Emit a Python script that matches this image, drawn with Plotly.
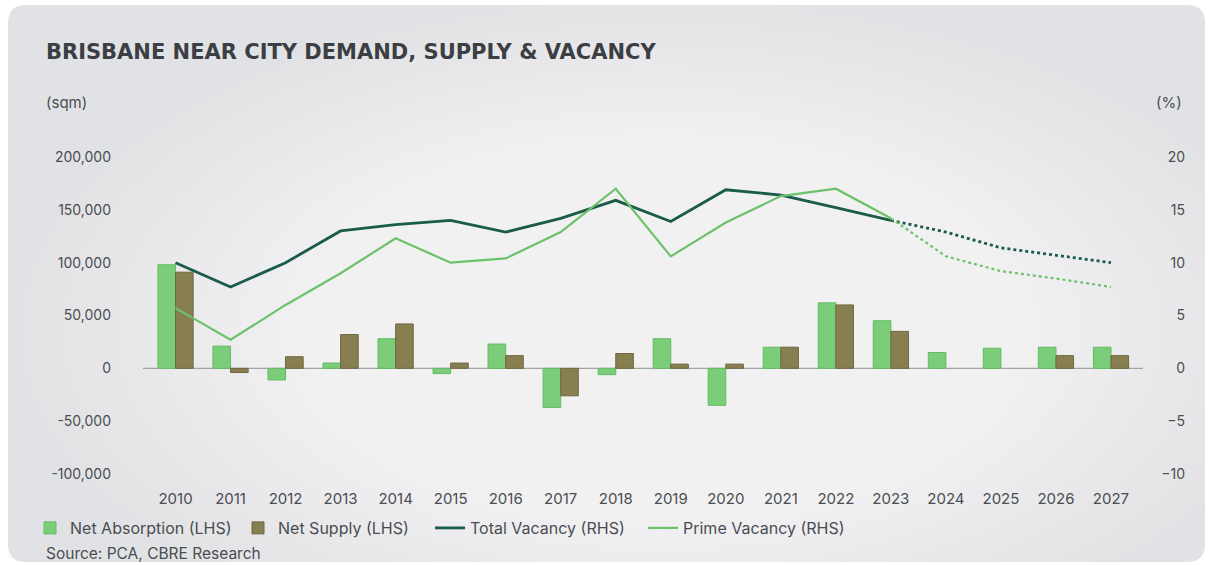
import plotly.graph_objects as go

# ---- data ----
years = [str(y) for y in range(2010, 2028)]
net_absorption = [98000, 21000, -11000, 5000, 28000, -5000, 23000, -37000, -6000,
                  28000, -35000, 20000, 62000, 45000, 15000, 19000, 20000, 20000]
net_supply = [91000, -4000, 11000, 32000, 42000, 5000, 12000, -26000, 14000,
              4000, 4000, 20000, 60000, 35000, 0, 0, 12000, 12000]
total_vacancy = [10.0, 7.7, 10.0, 13.0, 13.6, 14.0, 12.9, 14.2, 15.9,
                 13.9, 16.9, 16.4, 15.2, 14.0, 12.9, 11.4, 10.7, 10.0]
prime_vacancy = [5.7, 2.7, 6.0, 9.0, 12.3, 10.0, 10.4, 12.9, 17.0,
                 10.6, 13.8, 16.3, 17.0, 14.2, 10.6, 9.2, 8.5, 7.7]
forecast_start = years.index("2023")

left_ticks = [-100000, -50000, 0, 50000, 100000, 150000, 200000]
left_ticktext = ["-100,000", "-50,000", "0", "50,000", "100,000", "150,000", "200,000"]
right_ticks = [-10, -5, 0, 5, 10, 15, 20]

# ---- style ----
W, H = 1209, 565
ML, MR, MT, MB = 148, 20, 157, 91
PW, PH = W - ML - MR, H - MT - MB
FONT = "Inter, Roboto, sans-serif"
TITLE_FONT = "DejaVu Sans, Inter, sans-serif"
TXT = "#4a4d51"
C_ABS = "#7ccd79"
C_ABS_EDGE = "#62bb63"
C_SUP = "#877f50"
C_SUP_EDGE = "#6e6841"
C_TOTAL = "#1b5b4a"
C_PRIME = "#6cc26a"


def px_x(x):
    return (x - ML) / PW


def px_y(y):
    return (H - MB - y) / PH


def edge_widths(values):
    # no outline on empty bars so they leave no stub on the baseline
    return [0 if v == 0 else 1 for v in values]


fig = go.Figure()

fig.add_trace(go.Bar(x=years, y=net_absorption, name="Net Absorption (LHS)",
                     marker=dict(color=C_ABS, line=dict(width=edge_widths(net_absorption),
                                                        color=C_ABS_EDGE)),
                     legend="legend"))
fig.add_trace(go.Bar(x=years, y=net_supply, name="Net Supply (LHS)",
                     marker=dict(color=C_SUP, line=dict(width=edge_widths(net_supply),
                                                        color=C_SUP_EDGE)),
                     legend="legend2"))

fs = forecast_start
fig.add_trace(go.Scatter(x=years[:fs + 1], y=total_vacancy[:fs + 1], yaxis="y2",
                         mode="lines", name="Total Vacancy (RHS)",
                         line=dict(color=C_TOTAL, width=2.8), legend="legend3"))
fig.add_trace(go.Scatter(x=years[fs:], y=total_vacancy[fs:], yaxis="y2",
                         mode="lines", showlegend=False,
                         line=dict(color=C_TOTAL, width=2.8, dash="dot")))
fig.add_trace(go.Scatter(x=years[:fs + 1], y=prime_vacancy[:fs + 1], yaxis="y2",
                         mode="lines", name="Prime Vacancy (RHS)",
                         line=dict(color=C_PRIME, width=2.2), legend="legend4"))
fig.add_trace(go.Scatter(x=years[fs:], y=prime_vacancy[fs:], yaxis="y2",
                         mode="lines", showlegend=False,
                         line=dict(color=C_PRIME, width=2.2, dash="dot")))

# ---- card background with a soft central glow ----
shapes = []
x0, x1, y0, y1, r = 8, 1205, 5, 562, 18
rx, ry = r / PW, r / PH
X0, X1, Y0, Y1 = px_x(x0), px_x(x1), px_y(y0), px_y(y1)
path = (f"M {X0 + rx},{Y0} L {X1 - rx},{Y0} Q {X1},{Y0} {X1},{Y0 - ry} "
        f"L {X1},{Y1 + ry} Q {X1},{Y1} {X1 - rx},{Y1} L {X0 + rx},{Y1} "
        f"Q {X0},{Y1} {X0},{Y1 + ry} L {X0},{Y0 - ry} Q {X0},{Y0} {X0 + rx},{Y0} Z")
shapes.append(dict(type="path", path=path, xref="paper", yref="paper",
                   fillcolor="#e1e2e5", line=dict(width=0), layer="below"))
cx, cy = 660, 330
n_glow = 30
for i in range(n_glow):
    f = 1 - i / n_glow
    hw = 40 + 600 * f
    hh = 30 + 300 * f
    shapes.append(dict(type="circle", xref="paper", yref="paper",
                       x0=px_x(cx - hw), x1=px_x(cx + hw),
                       y0=px_y(cy + hh), y1=px_y(cy - hh),
                       fillcolor="white", opacity=0.065, line=dict(width=0),
                       layer="below"))

# baseline at zero, slightly wider than the category band
shapes.append(dict(type="line", xref="paper", yref="y", x0=px_x(143), x1=px_x(1143),
                   y0=0, y1=0, line=dict(color="#a3a4a6", width=1.3), layer="below"))

annotations = [
    dict(text="<b>BRISBANE NEAR CITY DEMAND, SUPPLY & VACANCY</b>", x=px_x(44), y=px_y(52),
         xref="paper", yref="paper", xanchor="left", yanchor="middle", showarrow=False,
         font=dict(family=TITLE_FONT, size=21, color="#3b3e43")),
    dict(text="(sqm)", x=px_x(44), y=px_y(103), xref="paper", yref="paper",
         xanchor="left", yanchor="middle", showarrow=False,
         font=dict(family=FONT, size=15, color=TXT)),
    dict(text="(%)", x=px_x(1184), y=px_y(103), xref="paper", yref="paper",
         xanchor="right", yanchor="middle", showarrow=False,
         font=dict(family=FONT, size=15, color=TXT)),
    dict(text="Source: PCA, CBRE Research", x=px_x(44), y=px_y(553), xref="paper",
         yref="paper", xanchor="left", yanchor="middle", showarrow=False,
         font=dict(family=FONT, size=15.5, color=TXT)),
]

legend_common = dict(orientation="h", yanchor="middle", xanchor="left",
                     bgcolor="rgba(0,0,0,0)", font=dict(family=FONT, size=16, color=TXT))
ly = px_y(528)

fig.update_layout(
    width=W, height=H,
    margin=dict(l=ML, r=MR, t=MT, b=MB, pad=0),
    paper_bgcolor="white", plot_bgcolor="rgba(0,0,0,0)",
    barmode="group", bargap=0.36, bargroupgap=0,
    font=dict(family=FONT, size=14, color=TXT),
    shapes=shapes, annotations=annotations,
    legend=dict(x=px_x(30), y=ly, **legend_common),
    legend2=dict(x=px_x(238), y=ly, **legend_common),
    legend3=dict(x=px_x(430), y=ly, **legend_common),
    legend4=dict(x=px_x(643), y=ly, **legend_common),
    xaxis=dict(domain=[0, px_x(1138.5)], type="category", showgrid=False,
               showline=False, ticks="", ticklabelstandoff=14,
               tickfont=dict(family=FONT, size=15, color=TXT)),
    yaxis=dict(range=[-100000, 200000], tickvals=left_ticks, ticktext=left_ticktext,
               showgrid=False, showline=False, ticks="", zeroline=False,
               ticklabelstandoff=36,
               tickfont=dict(family=FONT, size=14, color=TXT)),
    yaxis2=dict(range=[-10, 20], tickvals=right_ticks, overlaying="y", side="left",
                anchor="free", position=1, showgrid=False, showline=False, ticks="",
                zeroline=False, ticklabelstandoff=4,
                tickfont=dict(family=FONT, size=14, color=TXT)),
)

fig.write_html("out.html")
